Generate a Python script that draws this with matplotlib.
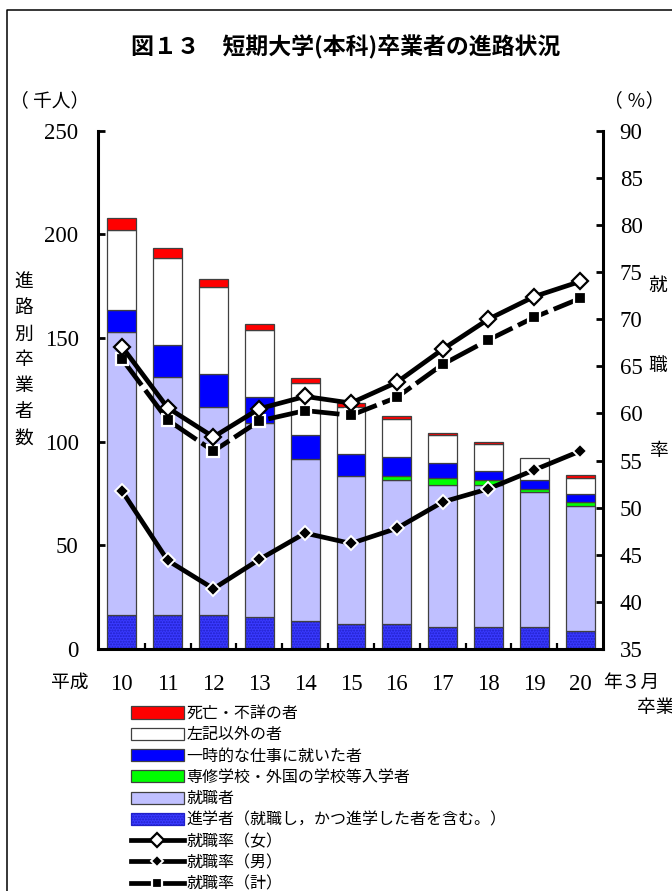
import numpy as np
import matplotlib
matplotlib.use("Agg")
import matplotlib.pyplot as plt
from matplotlib.patches import Patch
from matplotlib.lines import Line2D

JP = ['Noto Sans CJK JP', 'DejaVu Sans']
NUM = ['Liberation Serif', 'DejaVu Serif']
plt.rcParams['font.family'] = JP

# ---- data (千人 / %) ----
years = ['10', '11', '12', '13', '14', '15', '16', '17', '18', '19', '20']
shingaku = [16.4, 16.4, 16.4, 15.6, 13.5, 12.1, 12.1, 10.8, 10.8, 10.8, 8.7]      # 進学者
shushoku = [136.6, 114.9, 100.1, 93.2, 78.1, 71.5, 69.2, 68.3, 68.3, 64.8, 60.1]  # 就職者
senshu = [0, 0, 0, 0, 0, 0, 2.3, 3.3, 2.4, 1.4, 2.2]                              # 専修学校等
ichiji = [10.5, 15.3, 16.1, 12.6, 11.6, 10.4, 9.1, 7.1, 4.5, 4.5, 3.6]            # 一時的な仕事
sonota = [38.5, 41.8, 42.1, 32.7, 24.9, 22.8, 18.2, 13.5, 12.7, 10.4, 7.8]        # 左記以外
shibou = [5.7, 4.8, 3.6, 2.6, 2.4, 2.0, 1.4, 1.3, 1.0, 0.0, 1.4]                  # 死亡・不詳

rate_female = [67.1, 60.6, 57.5, 60.5, 61.8, 61.1, 63.3, 66.8, 70.0, 72.4, 74.0]
rate_male = [51.8, 44.4, 41.4, 44.5, 47.3, 46.2, 47.8, 50.6, 52.0, 54.0, 56.0]
rate_total = [65.8, 59.3, 56.0, 59.2, 60.3, 59.8, 61.7, 65.2, 67.8, 70.2, 72.2]

W, H = 672, 891
fig = plt.figure(figsize=(W / 100, H / 100), dpi=100)


def fx(px):
    return px / W


def fy(py):
    return 1 - py / H


ax = fig.add_axes([fx(98), fy(649), (603 - 98) / W, (649 - 130.7) / H])
x = np.arange(len(years))
bw = 0.63
edge = '#404040'

layers = [
    (shingaku, '#3a3aff'),
    (shushoku, '#c0c0ff'),
    (senshu, '#00ff00'),
    (ichiji, '#0000ff'),
    (sonota, '#ffffff'),
    (shibou, '#ff0000'),
]
bottom = np.zeros(len(years))
for i, (vals, col) in enumerate(layers):
    v = np.array(vals, dtype=float)
    lw = np.where(v > 0, 0.9, 0.0)
    if i == 0:
        ax.bar(x, v, bw, bottom=bottom, color=col, edgecolor='#2020c8',
               hatch='......', linewidth=0, zorder=2)
        ax.bar(x, v, bw, bottom=bottom, color='none', edgecolor=edge,
               linewidth=lw, zorder=2)
    else:
        ax.bar(x, v, bw, bottom=bottom, color=col, edgecolor=edge,
               linewidth=lw, zorder=2)
    bottom += v

ax.set_xlim(-0.52, 10.5)
ax.set_ylim(0, 250)
ax.set_yticks(np.arange(0, 251, 50))
ax.set_xticks(x)
ax.set_xticklabels(years)
ax.set_xticks(x[:-1] + 0.5, minor=True)
ax.tick_params(axis='x', which='major', length=0, pad=18)
ax.tick_params(axis='x', which='minor', direction='in', length=4, width=1.6)
ax.tick_params(axis='y', direction='in', length=5, width=2, pad=14)
for lab in ax.get_xticklabels() + ax.get_yticklabels():
    lab.set_fontfamily(NUM)
    lab.set_fontsize(16.5)
for s in ['top', 'right']:
    ax.spines[s].set_visible(False)
for s in ['left', 'bottom']:
    ax.spines[s].set_linewidth(2.2)

ax2 = ax.twinx()
ax2.set_ylim(35, 90)
ax2.set_yticks(np.arange(35, 91, 5))
ax2.tick_params(axis='y', direction='in', length=5, width=2, pad=12)
for lab in ax2.get_yticklabels():
    lab.set_fontfamily(NUM)
    lab.set_fontsize(16.5)
for s in ['top', 'left', 'bottom']:
    ax2.spines[s].set_visible(False)
ax2.spines['right'].set_linewidth(2.2)

lw_line = 3.4
ax2.plot(x, rate_total, color='black', lw=lw_line, dashes=(7, 1.3),
         marker='s', ms=8.5, mfc='black', mec='white', mew=1.6, zorder=3)
ax2.plot(x, rate_male, color='black', lw=lw_line,
         marker='D', ms=7, mfc='black', mec='white', mew=1.4, zorder=4)
ax2.plot(x, rate_female, color='black', lw=lw_line,
         marker='D', ms=8, mfc='white', mec='black', mew=1.6, zorder=5)

# ---- text around the plot ----
fig.text(fx(346), fy(47), '図１３　短期大学(本科)卒業者の進路状況', ha='center',
         va='center', fontsize=16.5, fontweight='bold', family=JP)
fig.text(fx(10), fy(101), '（ 千人）', ha='left', va='center', fontsize=13.5,
         family=JP)
fig.text(fx(604), fy(101), '（ ％）', ha='left', va='center', fontsize=13.5,
         family=JP)

for k, ch in enumerate('進路別卒業者数'):
    fig.text(fx(24), fy(282 + k * 26), ch, ha='center', va='center',
             fontsize=13.5, family=JP)
for ch, py in zip('就職率', [285, 365, 450]):
    fig.text(fx(658), fy(py), ch, ha='center', va='center', fontsize=13.5,
             family=JP)

fig.text(fx(89), fy(682), '平成', ha='right', va='center', fontsize=13.5,
         family=JP)
fig.text(fx(603), fy(682), '年３月', ha='left', va='center', fontsize=13.5,
         family=JP)
fig.text(fx(637), fy(708), '卒業', ha='left', va='center', fontsize=13.5,
         family=JP)

# frame
fig.add_artist(Line2D([fx(7), fx(7), 1.0], [0.0, fy(10), fy(10)],
                      transform=fig.transFigure, color='black', lw=1.1))

# ---- legend ----
handles = [
    Patch(facecolor='#ff0000', edgecolor=edge, linewidth=0.9),
    Patch(facecolor='#ffffff', edgecolor=edge, linewidth=0.9),
    Patch(facecolor='#0000ff', edgecolor=edge, linewidth=0.9),
    Patch(facecolor='#00ff00', edgecolor=edge, linewidth=0.9),
    Patch(facecolor='#c0c0ff', edgecolor=edge, linewidth=0.9),
    Patch(facecolor='#3a3aff', edgecolor='#2020c8', hatch='......',
          linewidth=0.9),
    Line2D([], [], color='black', lw=lw_line, marker='D', ms=7.5,
           mfc='white', mec='black', mew=1.6),
    Line2D([], [], color='black', lw=lw_line, marker='D', ms=6,
           mfc='black', mec='white', mew=1.4),
    Line2D([], [], color='black', lw=lw_line, marker='s', ms=7,
           mfc='black', mec='white', mew=1.6),
]
labels = ['死亡・不詳の者', '左記以外の者', '一時的な仕事に就いた者',
          '専修学校・外国の学校等入学者', '就職者',
          '進学者（就職し，かつ進学した者を含む。）',
          '就職率（女）', '就職率（男）', '就職率（計）']
leg = fig.legend(handles, labels, loc='upper left',
                 bbox_to_anchor=(fx(131), fy(705)), frameon=False,
                 prop={'family': JP, 'size': 11.5}, handlelength=3.3,
                 handleheight=0.8, handletextpad=0.15, labelspacing=0.27,
                 borderpad=0, borderaxespad=0, numpoints=1)

fig.savefig('out.png', dpi=100)
